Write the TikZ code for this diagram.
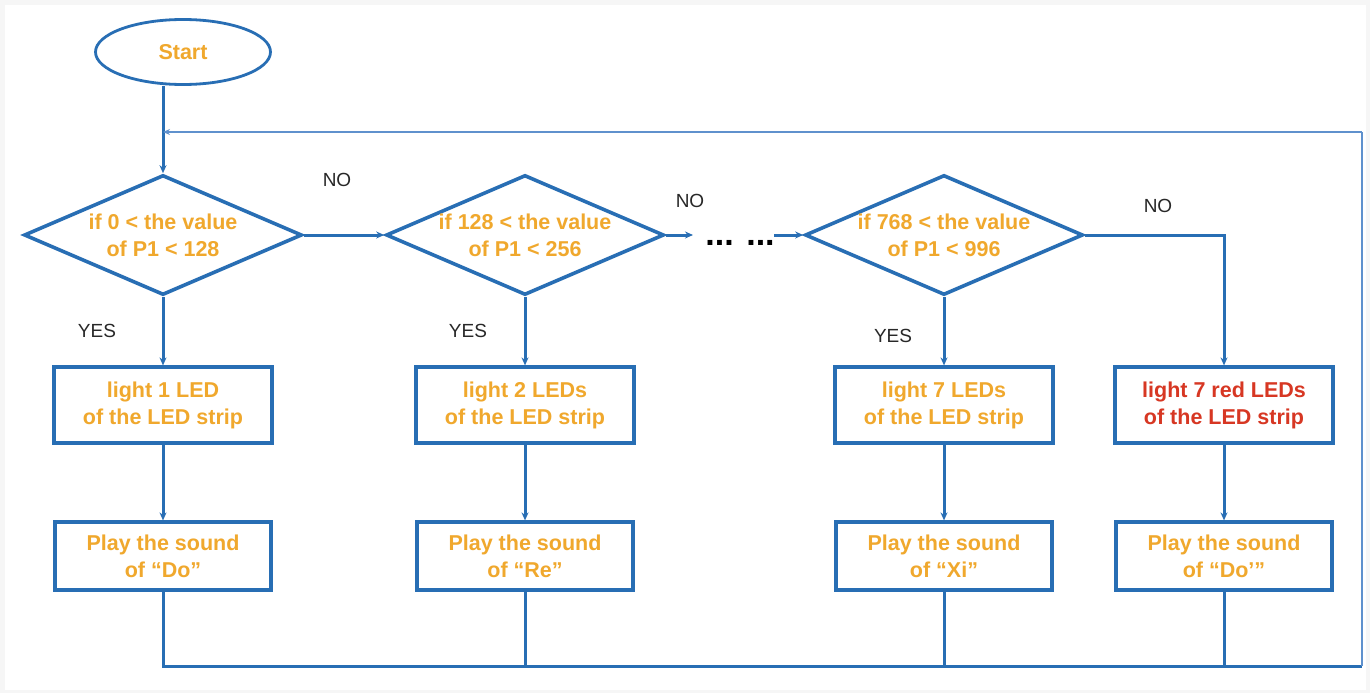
\documentclass[tikz,border=0pt]{standalone}
\usepackage{fontspec}
\setmainfont{Liberation Sans}
\usetikzlibrary{shapes.geometric,arrows.meta}
\definecolor{fblue}{RGB}{40,110,180}
\definecolor{lblue}{RGB}{95,145,205}
\definecolor{ftext}{RGB}{240,168,45}
\definecolor{rtext}{RGB}{215,55,35}
\definecolor{lbl}{RGB}{40,40,40}
\definecolor{frame}{RGB}{246,246,246}
\tikzset{
  shp/.style={draw=fblue, line width=3.2pt, fill=white, font=\bfseries\fontsize{21.5}{27}\selectfont, text=ftext, align=center},
  startnode/.style={shp, ellipse, line width=2.8pt, minimum width=175pt, minimum height=65pt, inner sep=0pt},
  decision/.style={shp, diamond, line width=3.6pt, aspect=2.3, minimum width=278pt, minimum height=120pt, inner sep=0pt},
  actbox/.style={shp, rectangle, minimum width=218pt, minimum height=76pt, inner sep=0pt},
  sndbox/.style={shp, rectangle, minimum width=216pt, minimum height=68pt, inner sep=0pt},
  conn/.style={draw=fblue, line width=3pt},
  loopline/.style={draw=lblue, line width=2.8pt},
  arr/.style={-{Stealth[length=8pt,width=7pt]}},
  lab/.style={font=\fontsize{19}{22}\selectfont, text=lbl},
}
\begin{document}
\begin{tikzpicture}[x=1pt,y=-1pt]
\fill[frame] (0,0) rectangle (1370,693);
\fill[white] (5,5) rectangle (1366,690);
\useasboundingbox (0,0) rectangle (1370,693);

\node[startnode] (start) at (183,52) {Start};

\node[decision] (d1) at (163,235) {if 0 < the value\\of P1 < 128};
\node[decision] (d2) at (525,235) {if 128 < the value\\of P1 < 256};
\node[decision] (d3) at (944,235) {if 768 < the value\\of P1 < 996};

\node[actbox] (a1) at (163,405) {light 1 LED\\of the LED strip};
\node[actbox] (a2) at (525,405) {light 2 LEDs\\of the LED strip};
\node[actbox] (a3) at (944,405) {light 7 LEDs\\of the LED strip};
\node[actbox, text=rtext] (a4) at (1224,405) {light 7 red LEDs\\of the LED strip};

\node[sndbox] (s1) at (163,556) {Play the sound\\of “Do”};
\node[sndbox] (s2) at (525,556) {Play the sound\\of “Re”};
\node[sndbox] (s3) at (944,556) {Play the sound\\of “Xi”};
\node[sndbox] (s4) at (1224,556) {Play the sound\\of “Do'”};

\node[font=\bfseries\fontsize{34}{34}\selectfont, anchor=base, inner sep=0pt] (dots) at (740,245) {... ...};

\node[lab] (no1) at (337,180) {NO};
\node[lab] (no2) at (690,201) {NO};
\node[lab] (no3) at (1158,206) {NO};
\node[lab] (yes1) at (97,331) {YES};
\node[lab] (yes2) at (468,331) {YES};
\node[lab] (yes3) at (893,336) {YES};

\coordinate (jn) at (163,132);
\coordinate (tr) at (1362,132);
\coordinate (br) at (1362,666);
\coordinate (bl) at (163,666);
\coordinate (dotsL) at (693,235);
\coordinate (dotsR) at (774,235);
\coordinate (n3) at (1224,235);

% main flow
\draw[conn] (jn |- start.south) -- (jn);
\draw[conn, arr] (jn) -- (d1.north);
\draw[conn, arr] (d1.east) -- (d2.west);
\draw[conn, arr] (d2.east) -- (dotsL);
\draw[conn, arr] (dotsR) -- (d3.west);
\draw[conn, arr] (d3.east) -- (n3) -- (a4.north);

\draw[conn, arr] (d1.south) -- (a1.north);
\draw[conn, arr] (d2.south) -- (a2.north);
\draw[conn, arr] (d3.south) -- (a3.north);

\draw[conn, arr] (a1.south) -- (s1.north);
\draw[conn, arr] (a2.south) -- (s2.north);
\draw[conn, arr] (a3.south) -- (s3.north);
\draw[conn, arr] (a4.south) -- (s4.north);

% loop back
\draw[conn] (s1.south) -- (bl) -- (br);
\draw[conn] (s2.south) -- (s2.south |- bl);
\draw[conn] (s3.south) -- (s3.south |- bl);
\draw[conn] (s4.south) -- (s4.south |- bl);
\draw[loopline] (br) -- (tr);
\draw[loopline, -{Stealth[length=7pt,width=6pt]}] (tr) -- (jn);
\end{tikzpicture}
\end{document}
